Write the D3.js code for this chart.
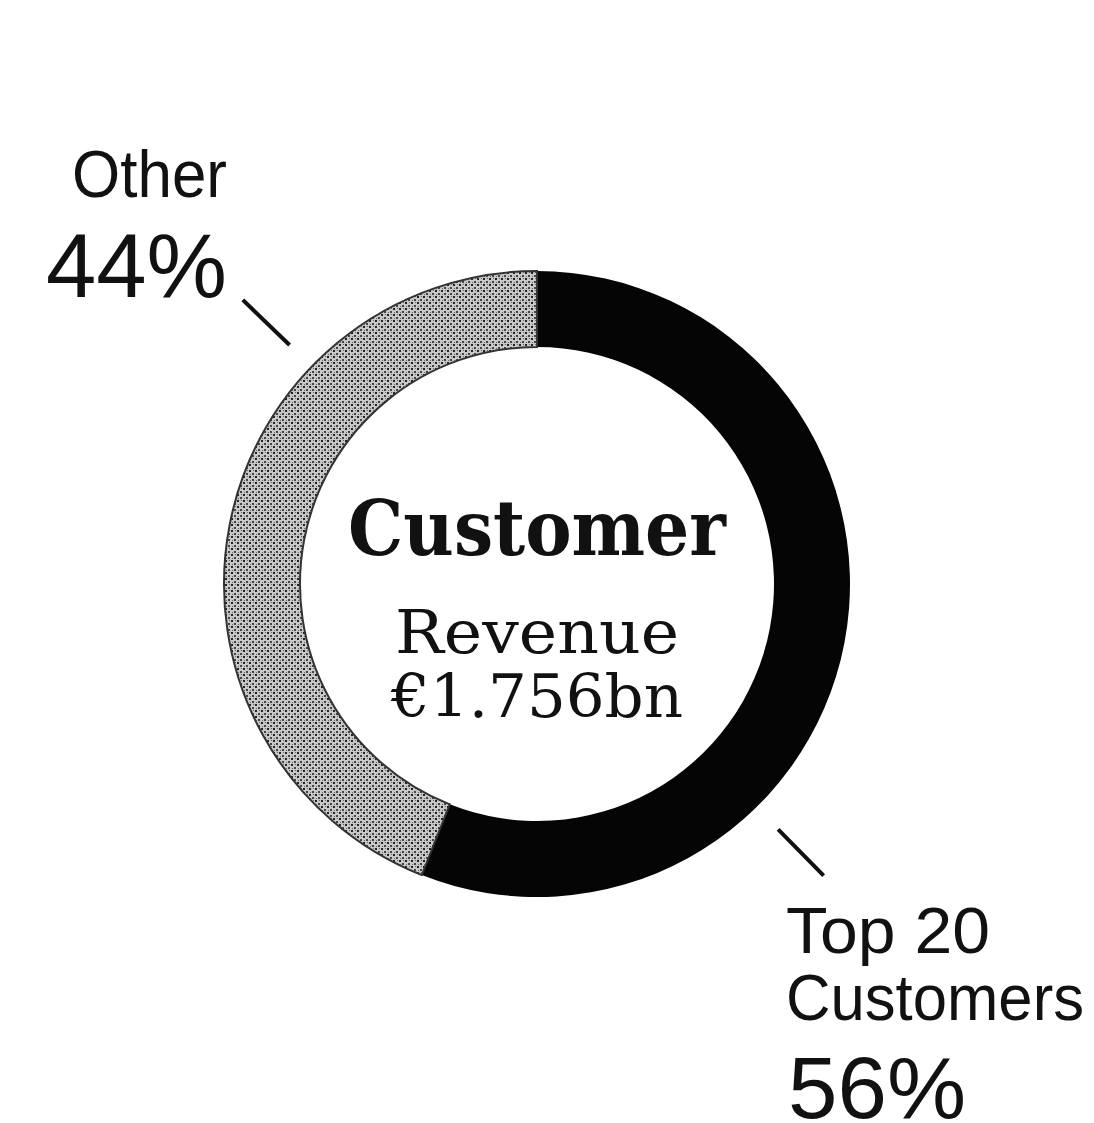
<!DOCTYPE html>
<meta charset="utf-8" />
<script src="https://d3js.org/d3.v7.min.js"></script>
<style>
  body { margin: 0; background: #fff; }
</style>
<div id="chart"></div>
<script>
  // data
  const segments = ['Top 20 Customers', 'Other'];
  const shares = [56, 44];
  const centreTitle = 'Customer';
  const centreLines = ['Revenue', '€1.756bn'];

  const width = 1094, height = 1123;
  const cx = 537, cy = 584, outerR = 313, innerR = 237;

  const svg = d3.select('#chart')
    .append('svg')
    .attr('width', width)
    .attr('height', height);

  // dithered grey like the scan
  const defs = svg.append('defs');
  const pat = defs.append('pattern')
    .attr('id', 'stipple')
    .attr('width', 6).attr('height', 6)
    .attr('patternUnits', 'userSpaceOnUse');
  pat.append('rect').attr('width', 6).attr('height', 6).attr('fill', '#c8c8c8');
  pat.append('rect').attr('x', 0).attr('y', 0).attr('width', 2).attr('height', 2).attr('fill', '#222');
  pat.append('rect').attr('x', 3).attr('y', 3).attr('width', 2).attr('height', 2).attr('fill', '#444');
  pat.append('rect').attr('x', 4).attr('y', 0).attr('width', 1).attr('height', 1).attr('fill', '#666');
  pat.append('rect').attr('x', 1).attr('y', 4).attr('width', 1).attr('height', 1).attr('fill', '#666');

  const color = d3.scaleOrdinal().domain(segments).range(['#050505', 'url(#stipple)']);

  const pie = d3.pie().sort(null).value(d => d.v);
  const arcs = pie(segments.map((s, i) => ({ s, v: shares[i] })));
  const arc = d3.arc().innerRadius(innerR).outerRadius(outerR);

  const g = svg.append('g').attr('transform', `translate(${cx},${cy})`);

  g.selectAll('path')
    .data(arcs)
    .join('path')
    .attr('d', arc)
    .attr('fill', d => color(d.data.s))
    .attr('stroke', d => d.data.s === 'Other' ? '#333' : 'none')
    .attr('stroke-width', 2);

  // leader lines
  const leaders = [
    { angle: 135.5 },  // Top 20
    { angle: -46 }     // Other
  ];
  const rad = a => a * Math.PI / 180;
  g.selectAll('line.leader')
    .data(leaders)
    .join('line')
    .attr('class', 'leader')
    .attr('x1', d => 344 * Math.sin(rad(d.angle)))
    .attr('y1', d => -344 * Math.cos(rad(d.angle)))
    .attr('x2', d => 409 * Math.sin(rad(d.angle)))
    .attr('y2', d => -409 * Math.cos(rad(d.angle)))
    .attr('stroke', '#111')
    .attr('stroke-width', 4);

  // centre text
  g.append('text')
    .attr('x', 0).attr('y', 555 - cy)
    .attr('text-anchor', 'middle')
    .attr('textLength', 378)
    .attr('lengthAdjust', 'spacingAndGlyphs')
    .style('font-family', '"DejaVu Serif", serif')
    .style('font-weight', 'bold')
    .style('font-size', '76px')
    .style('fill', '#111')
    .text(centreTitle);

  g.selectAll('text.sub')
    .data(centreLines)
    .join('text')
    .attr('class', 'sub')
    .attr('x', 0)
    .attr('y', (d, i) => 653 - cy + i * 64)
    .attr('text-anchor', 'middle')
    .attr('textLength', (d, i) => i ? 292 : 284)
    .attr('lengthAdjust', 'spacingAndGlyphs')
    .style('font-family', '"DejaVu Serif", serif')
    .style('font-size', '60px')
    .style('fill', '#111')
    .text(d => d);

  // outside labels
  const labelFont = '"Liberation Sans", Arial, sans-serif';
  const other = svg.append('g');
  other.append('text')
    .attr('x', 72).attr('y', 197)
    .attr('textLength', 155).attr('lengthAdjust', 'spacingAndGlyphs')
    .style('font-family', labelFont).style('font-size', '66px').style('fill', '#111')
    .text(segments[1].replace(/ .*/, ''));
  other.append('text')
    .attr('x', 46).attr('y', 297)
    .attr('textLength', 181).attr('lengthAdjust', 'spacingAndGlyphs')
    .style('font-family', labelFont).style('font-size', '90px').style('fill', '#111')
    .text(shares[1] + '%');

  const top20 = svg.append('g');
  const topWords = ['Top 20', 'Customers'];
  top20.selectAll('text.name')
    .data(topWords)
    .join('text')
    .attr('class', 'name')
    .attr('x', 786)
    .attr('y', (d, i) => 953 + i * 67)
    .attr('textLength', (d, i) => i ? 298 : 204)
    .attr('lengthAdjust', 'spacingAndGlyphs')
    .style('font-family', labelFont).style('font-size', '64px').style('fill', '#111')
    .text(d => d);
  top20.append('text')
    .attr('x', 788).attr('y', 1118)
    .attr('textLength', 178).attr('lengthAdjust', 'spacingAndGlyphs')
    .style('font-family', labelFont).style('font-size', '88px').style('fill', '#111')
    .text(shares[0] + '%');
</script>
